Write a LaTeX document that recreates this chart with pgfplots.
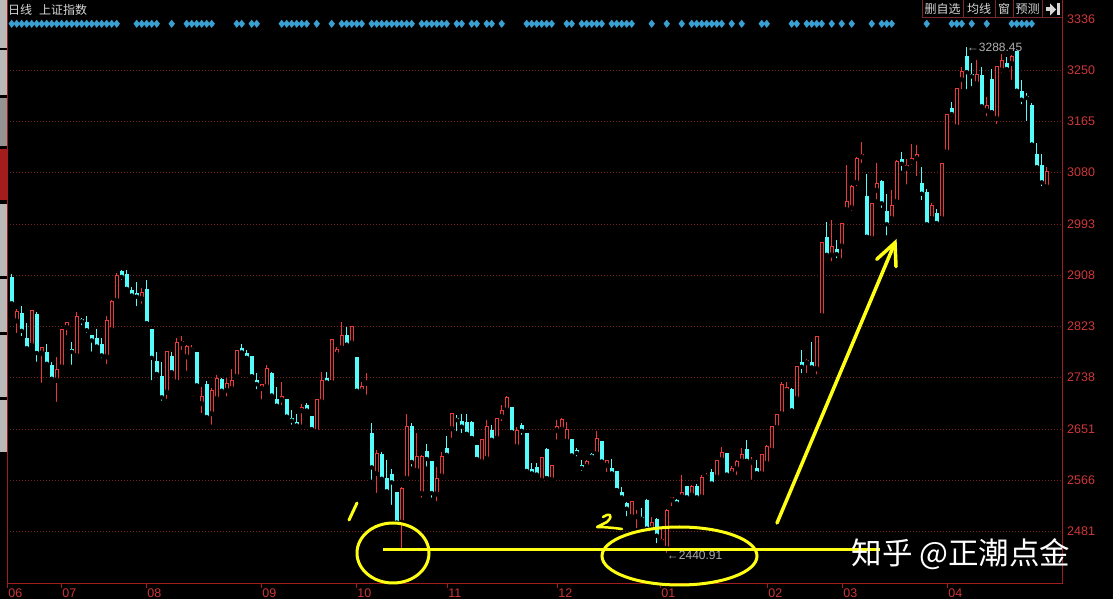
\documentclass[border=0pt]{standalone}
\usepackage{fontspec}
\setmainfont{Liberation Sans}
\newfontfamily\cjk{Noto Sans CJK SC}
\usepackage{pgfplots}
\pgfplotsset{compat=1.18}
\usepackage{pgfplotstable}
\definecolor{upred}{RGB}{235,55,55}
\definecolor{downcyan}{RGB}{84,252,252}
\definecolor{borderred}{RGB}{160,30,30}
\definecolor{gridred}{RGB}{120,30,30}
\definecolor{labelred}{RGB}{205,55,55}
\definecolor{diamondblue}{RGB}{58,160,210}
\definecolor{hand}{RGB}{255,255,20}
\definecolor{ltgrey}{RGB}{215,215,215}
\definecolor{tgrey}{RGB}{175,175,175}
\definecolor{tabgrey}{RGB}{185,185,185}
\definecolor{tabred}{RGB}{165,28,28}
\definecolor{btnline}{RGB}{120,40,40}

\pgfplotstableread{
i o h l c
1 2832 2851 2808 2847
4 2791 2850 2786 2850
6 2778 2788 2725 2788
9 2733 2771 2693 2750
10 2755 2818 2755 2817
11 2821 2830 2804 2829
13 2774 2846 2773 2840
19 2772 2840 2756 2832
20 2817 2867 2814 2864
21 2866 2912 2866 2907
26 2869 2886 2857 2879
31 2713 2780 2698 2780
33 2730 2803 2729 2795
34 2794 2806 2780 2797
35 2772 2791 2745 2789
36 2783 2791 2776 2785
38 2694 2722 2674 2706
40 2677 2719 2655 2716
41 2702 2741 2700 2736
43 2716 2737 2702 2727
44 2719 2752 2714 2733
45 2739 2783 2739 2783
50 2719 2725 2697 2725
51 2722 2758 2716 2752
54 2700 2730 2688 2705
58 2682 2693 2655 2688
61 2647 2701 2647 2701
62 2697 2747 2694 2733
64 2729 2800 2727 2800
65 2776 2789 2773 2784
66 2787 2830 2783 2808
68 2795 2823 2795 2823
70 2715 2730 2713 2723
71 2728 2744 2705 2729
73 2577 2616 2541 2611
78 2496 2555 2449 2552
79 2569 2677 2569 2656
81 2582 2644 2582 2605
82 2544 2608 2533 2606
85 2543 2588 2527 2569
86 2573 2613 2572 2605
88 2652 2677 2633 2677
94 2597 2634 2594 2633
95 2602 2667 2599 2656
97 2636 2669 2634 2669
98 2672 2691 2661 2682
99 2683 2706 2680 2704
101 2622 2655 2619 2649
106 2566 2605 2563 2604
108 2567 2591 2559 2591
109 2649 2667 2630 2655
110 2651 2669 2649 2667
111 2631 2663 2628 2651
115 2589 2599 2587 2597
117 2610 2648 2608 2636
119 2591 2600 2576 2599
124 2505 2530 2502 2530
125 2505 2516 2482 2507
128 2485 2505 2482 2496
130 2463 2488 2457 2467
131 2452 2517 2440.91 2516
132 2533 2538 2519 2537
134 2538 2574 2538 2546
136 2541 2557 2538 2555
138 2538 2574 2535 2571
139 2571 2577 2566 2574
141 2571 2600 2569 2599
142 2600 2622 2599 2612
144 2577 2589 2574 2585
145 2585 2599 2571 2597
146 2598 2619 2595 2608
148 2596 2605 2563 2598
150 2577 2608 2574 2608
151 2594 2624 2593 2622
152 2616 2656 2615 2656
153 2654 2677 2651 2675
154 2677 2730 2675 2725
155 2715 2730 2711 2721
157 2702 2756 2701 2755
159 2762 2769 2741 2765
161 2752 2805 2739 2805
162 2841 2964 2841 2962
164 2942 3000 2928 2956
166 2957 2996 2933 2995
167 3018 3092 3010 3031
168 3021 3059 3012 3056
169 3063 3105 3053 3103
170 3106 3131 3092 3109
172 2970 3029 2967 3028
173 3050 3096 3031 3061
176 3003 3050 3001 3024
177 3031 3100 3028 3098
179 3087 3103 3056 3092
180 3098 3127 3089 3103
181 3103 3125 3070 3109
184 3003 3028 2997 3025
186 3003 3095 3000 3095
187 3114 3178 3114 3176
189 3156 3220 3155 3220
190 3235 3256 3215 3248
193 3228 3267 3225 3244
195 3183 3206 3170 3192
197 3170 3256 3157 3256
198 3251 3278 3242 3267
200 3262 3276 3231 3273
207 3056 3089 3055 3081
}\risetab

\pgfplotstableread{
i o h l c
0 2905 2910 2860 2862
2 2844 2857 2803 2816
3 2802 2828 2784 2787
5 2843 2847 2760 2779
7 2779 2794 2756 2761
8 2758 2764 2730 2736
12 2784 2797 2755 2781
14 2834 2836 2821 2832
15 2829 2840 2808 2817
16 2808 2808 2777 2800
17 2803 2819 2789 2789
18 2793 2804 2766 2775
22 2914 2916 2897 2906
23 2910 2917 2879 2886
24 2882 2889 2867 2875
25 2878 2897 2853 2873
27 2884 2900 2828 2828
28 2817 2817 2729 2771
29 2764 2780 2741 2744
30 2739 2764 2695 2705
32 2773 2780 2744 2747
37 2779 2779 2723 2725
39 2725 2732 2669 2672
42 2734 2736 2711 2716
46 2786 2793 2777 2780
47 2778 2783 2765 2771
48 2772 2772 2739 2740
49 2732 2745 2714 2727
52 2744 2747 2705 2708
53 2700 2721 2688 2691
55 2700 2700 2672 2672
56 2669 2683 2655 2666
57 2662 2676 2651 2658
59 2691 2695 2677 2683
60 2673 2673 2650 2652
63 2736 2747 2727 2730
67 2808 2822 2789 2793
69 2771 2772 2712 2716
72 2644 2662 2563 2588
74 2608 2613 2566 2569
75 2569 2599 2541 2548
76 2576 2584 2521 2563
77 2545 2545 2495 2495
80 2655 2662 2585 2597
83 2613 2627 2585 2602
84 2597 2597 2533 2545
87 2619 2639 2606 2609
89 2669 2674 2644 2667
90 2664 2677 2641 2656
91 2663 2677 2641 2644
92 2662 2665 2636 2637
93 2623 2623 2600 2602
96 2649 2658 2630 2634
100 2687 2687 2645 2647
102 2658 2662 2638 2649
103 2643 2643 2578 2582
104 2584 2594 2570 2578
105 2587 2595 2569 2576
107 2617 2619 2569 2570
112 2633 2633 2605 2608
113 2615 2619 2602 2612
114 2591 2599 2578 2587
116 2608 2612 2599 2606
118 2630 2630 2597 2597
120 2585 2602 2571 2578
121 2580 2580 2549 2550
122 2546 2555 2532 2538
123 2527 2530 2502 2519
126 2504 2519 2499 2502
127 2532 2535 2485 2485
129 2500 2502 2457 2474
133 2532 2534 2524 2528
135 2555 2556 2535 2538
137 2556 2560 2535 2538
140 2578 2584 2560 2561
143 2611 2611 2574 2576
147 2617 2633 2594 2599
149 2585 2600 2577 2578
156 2717 2719 2682 2683
158 2762 2783 2741 2756
160 2762 2797 2752 2755
163 2971 2997 2940 2943
165 2951 2967 2933 2944
171 3039 3077 2972 2973
174 3064 3067 3017 3029
175 3014 3044 2971 2994
178 3102 3114 3079 3095
182 3061 3089 3030 3045
183 3047 3052 2992 2994
185 3011 3018 2990 2996
188 3187 3198 3170 3178
191 3274 3288.45 3215 3248
192 3244 3262 3220 3241
194 3241 3256 3187 3191
196 3235 3253 3180 3181
199 3262 3273 3248 3253
201 3281 3281 3215 3217
202 3215 3234 3190 3202
203 3207 3212 3162 3205
204 3192 3195 3126 3127
205 3110 3129 3088 3089
206 3092 3110 3053 3064
}\falltab

\pgfplotstableread{
x y
0 3328
1 3328
2 3328
3 3328
4 3328
5 3328
6 3328
7 3328
8 3328
9 3328
10 3328
11 3328
12 3328
13 3328
14 3328
15 3328
16 3328
17 3328
18 3328
19 3328
20 3328
21 3328
25 3328
26 3328
27 3328
28 3328
29 3328
32 3328
35 3328
36 3328
37 3328
38 3328
39 3328
40 3328
45 3328
46 3328
48 3328
49 3328
54 3328
55 3328
56 3328
57 3328
58 3328
59 3328
61 3328
64 3328
66 3328
67 3328
68 3328
69 3328
70 3328
72 3328
73 3328
74 3328
75 3328
76 3328
77 3328
78 3328
79 3328
80 3328
82 3328
83 3328
84 3328
85 3328
86 3328
87 3328
89 3328
90 3328
92 3328
93 3328
95 3328
96 3328
98 3328
103 3328
104 3328
105 3328
106 3328
107 3328
108 3328
111 3328
112 3328
114 3328
115 3328
116 3328
117 3328
118 3328
120 3328
121 3328
122 3328
123 3328
124 3328
128 3328
131 3328
134 3328
136 3328
137 3328
138 3328
139 3328
140 3328
141 3328
142 3328
144 3328
146 3328
150 3328
151 3328
156 3328
157 3328
159 3328
160 3328
161 3328
162 3328
164 3328
166 3328
168 3328
172 3328
174 3328
175 3328
176 3328
183 3328
188 3328
189 3328
190 3328
192 3328
195 3328
200 3328
201 3328
202 3328
203 3328
204 3328
}\diamtab

\begin{document}
\begin{tikzpicture}
\useasboundingbox (0pt,0pt) rectangle (1113pt,599pt);
\fill[black] (0pt,0pt) rectangle (1113pt,599pt);
\begin{axis}[
  at={(7pt,15pt)}, anchor=south west,
  scale only axis, width=1055pt, height=584pt,
  xmin=-0.94, xmax=210.06, ymin=2392.45, ymax=3367.7,
  axis x line*=bottom, axis y line*=right,
  axis line style={draw=borderred, line width=1pt},
  xtick={-0.9,9.9,26.9,49.9,68.9,87.1,109.1,129.7,151.1,166.1,187.1},
  xticklabels={06,07,08,09,10,11,12,01,02,03,04},
  xtick style={draw=borderred, line width=1pt},
  major tick length=4pt, tick align=outside,
  ytick={2481,2566,2651,2738,2823,2908,2993,3080,3165,3250},
  yticklabels={2481,2566,2651,2738,2823,2908,2993,3080,3165,3250},
  extra y ticks={3336}, extra y tick labels={3336},
  extra y tick style={grid=none},
  ytick style={draw=none},
  ymajorgrids,
  major grid style={gridred, dash pattern=on 1pt off 2pt, line width=0.8pt},
  ticklabel style={font=\fontsize{12.5}{12.5}\selectfont, text=labelred},
  xticklabel style={anchor=north west, inner sep=1pt, xshift=0pt},
  yticklabel style={anchor=west, inner sep=1pt},
]
% wicks
\addplot[only marks, mark=none, forget plot,
  error bars/.cd, y dir=plus, y explicit, error mark=none,
  error bar style={upred, line width=1pt}]
  table[x=i, y=l, y error plus expr={\thisrow{h}-\thisrow{l}}] {\risetab};
\addplot[only marks, mark=none, forget plot,
  error bars/.cd, y dir=plus, y explicit, error mark=none,
  error bar style={downcyan, line width=1pt}]
  table[x=i, y=l, y error plus expr={\thisrow{h}-\thisrow{l}}] {\falltab};
% bodies
\addplot[only marks, mark=none, forget plot,
  error bars/.cd, y dir=plus, y explicit, error mark=none,
  error bar style={downcyan, line width=3.7pt}]
  table[x=i, y expr={\thisrow{c}-0.8}, y error plus expr={\thisrow{o}-\thisrow{c}+1.6}] {\falltab};
\addplot[only marks, mark=none, forget plot,
  error bars/.cd, y dir=plus, y explicit, error mark=none,
  error bar style={upred, line width=3.7pt}]
  table[x=i, y expr={\thisrow{o}-0.8}, y error plus expr={\thisrow{c}-\thisrow{o}+1.6}] {\risetab};
\addplot[only marks, mark=none, forget plot,
  error bars/.cd, y dir=plus, y explicit, error mark=none,
  error bar style={black, line width=1.6pt}]
  table[x=i, y expr={\thisrow{o}+0.87}, y error plus expr={max(\thisrow{c}-\thisrow{o}-1.74,0)}] {\risetab};
% signal diamonds
\addplot[only marks, mark=diamond*, mark size=3.7pt, color=diamondblue, mark options={draw=none, fill=diamondblue, xscale=1.05}] table[x=x,y=y] {\diamtab};
% max / min annotations
\node[anchor=west, inner sep=0pt, text=tgrey, font=\fontsize{12}{12}\selectfont] at (axis cs:191,3288.45) {←3288.45};
\node[anchor=west, inner sep=0pt, text=tgrey, font=\fontsize{12}{12}\selectfont] at (axis cs:131,2440.91) {←2440.91};
% left frame line
\draw[borderred, line width=1pt] (rel axis cs:0,0) -- (rel axis cs:0,1);
\end{axis}

\begin{scope}[x=1pt, y=-1pt, shift={(0pt,599pt)}]
% left tabs
\fill[tabgrey] (0,0) rectangle (7,48);
\fill[tabgrey] (0,50) rectangle (7,95);
\fill[tabgrey!80!black] (0,98) rectangle (7,146);
\fill[tabred] (0,149) rectangle (7,200);
\fill[tabgrey] (0,204) rectangle (7,276);
\fill[tabgrey] (0,279) rectangle (7,332);
\fill[tabgrey] (0,335) rectangle (7,397);
\fill[tabgrey] (0,400) rectangle (7,452);
% title
\node[anchor=west, inner sep=0pt, text=ltgrey, font=\cjk\fontsize{12}{12}\selectfont] at (8,9.5) {日线\hspace{7pt}上证指数};
% buttons
\draw[btnline, line width=1pt] (922,0) -- (922,18) -- (1062,18);
\foreach \xx in {963,995,1013,1042} {\draw[btnline, line width=1pt] (\xx,0) -- (\xx,18);}
\node[text=ltgrey, inner sep=0pt, font=\cjk\fontsize{12}{12}\selectfont] at (942.5,9) {删自选};
\node[text=ltgrey, inner sep=0pt, font=\cjk\fontsize{12}{12}\selectfont] at (979,9) {均线};
\node[text=ltgrey, inner sep=0pt, font=\cjk\fontsize{12}{12}\selectfont] at (1004,9) {窗};
\node[text=ltgrey, inner sep=0pt, font=\cjk\fontsize{12}{12}\selectfont] at (1027.5,9) {预测};
\fill[ltgrey] (1046,7.5) rectangle (1050,11.5);
\fill[ltgrey] (1050,3.5) -- (1056,9.5) -- (1050,15.5) -- cycle;
\fill[ltgrey] (1057,3.5) rectangle (1059.5,15.5);
% hand annotations
\draw[hand, line width=3pt] (383,550) -- (880,550);
\draw[hand, line width=3pt] (393,553) ellipse [x radius=36, y radius=30];
\draw[hand, line width=3pt] (679.5,556) ellipse [x radius=77.5, y radius=29];
\draw[hand, line width=3pt, line cap=round] (349,520) -- (357,503);
\draw[hand, line width=2.5pt, line cap=round, line join=round] (603,517) .. controls (608,513) and (615,514) .. (607,522) -- (597,527) .. controls (605,527) and (615,528) .. (622,529);
\draw[hand, line width=3.5pt, line cap=round] (777,523) -- (894,245);
\draw[hand, line width=3.5pt, line cap=round, line join=miter] (876.7,259.3) -- (895,242.7) -- (896,266.7);
% watermark
\node[text=white, inner sep=0pt, font=\cjk\fontsize{30.5}{30.5}\selectfont] at (961,554) {知乎 @正潮点金};
\end{scope}
\end{tikzpicture}
\end{document}
